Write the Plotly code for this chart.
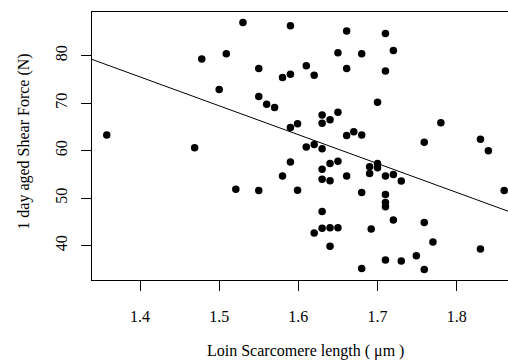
import plotly.graph_objects as go

# Sarcomere length (um)
sarcomere = [1.358, 1.478, 1.530, 1.590, 1.661, 1.509, 1.550, 1.580, 1.590, 1.610,
             1.620, 1.650, 1.661, 1.500, 1.550, 1.560, 1.570, 1.630, 1.650, 1.640,
             1.630, 1.590, 1.599, 1.661, 1.710, 1.680, 1.720, 1.710, 1.700, 1.780,
             1.670, 1.680, 1.759, 1.830, 1.840, 1.860, 1.690, 1.700, 1.700, 1.690,
             1.661, 1.710, 1.720, 1.730, 1.680, 1.710, 1.710, 1.710, 1.720, 1.759,
             1.692, 1.770, 1.830, 1.749, 1.710, 1.730, 1.680, 1.759, 1.610, 1.620,
             1.630, 1.590, 1.630, 1.640, 1.650, 1.580, 1.630, 1.640, 1.521, 1.550,
             1.599, 1.630, 1.620, 1.630, 1.640, 1.650, 1.640, 1.469]
# Shear force (N)
shear = [63.3, 79.3, 87.0, 86.3, 85.2, 80.4, 77.3, 75.4, 76.1, 77.9,
         75.9, 80.6, 77.3, 72.9, 71.4, 69.8, 69.1, 67.5, 68.1, 66.5,
         65.8, 64.9, 65.7, 63.2, 84.7, 80.4, 81.1, 76.8, 70.2, 65.9,
         64.0, 63.3, 61.8, 62.4, 60.0, 51.6, 56.6, 57.3, 56.4, 55.2,
         54.7, 54.7, 55.0, 53.6, 51.2, 50.8, 49.1, 48.2, 45.4, 44.9,
         43.5, 40.8, 39.3, 37.9, 37.0, 36.8, 35.2, 35.0, 60.8, 61.3,
         60.4, 57.6, 56.1, 57.3, 57.8, 54.7, 54.0, 53.7, 51.9, 51.6,
         51.7, 47.2, 42.7, 43.7, 43.8, 43.8, 39.9, 60.6]

# Fitted regression line: shear = intercept + slope * sarcomere
fit_intercept = 160.65
fit_slope = -60.8

x_ticks = [1.4, 1.5, 1.6, 1.7, 1.8]
y_ticks = [40, 50, 60, 70, 80]

x_range = [1.33937, 1.86479]
y_range = [32.779, 89.2]

font_family = "Liberation Serif, Times New Roman, serif"

fig = go.Figure()
fig.add_trace(go.Scatter(
    x=x_range,
    y=[fit_intercept + fit_slope * v for v in x_range],
    mode="lines",
    line=dict(color="black", width=1),
    showlegend=False,
    hoverinfo="skip",
))
fig.add_trace(go.Scatter(
    x=sarcomere, y=shear, mode="markers",
    marker=dict(color="black", size=7.5, line=dict(width=0)),
    showlegend=False,
))

fig.update_layout(
    width=508, height=361,
    margin=dict(l=92, r=0, t=12, b=81),
    paper_bgcolor="white", plot_bgcolor="white",
    font=dict(family=font_family, size=16, color="black"),
    xaxis=dict(
        range=x_range, tickvals=x_ticks, ticktext=[f"{v:.1f}" for v in x_ticks],
        showgrid=False, zeroline=False,
        showline=True, linecolor="black", linewidth=1, mirror=True,
        ticks="outside", ticklen=10, tickcolor="black", tickwidth=1,
        ticklabelstandoff=12,
    ),
    yaxis=dict(
        range=y_range, tickvals=y_ticks, ticktext=[str(v) for v in y_ticks],
        showgrid=False, zeroline=False,
        showline=True, linecolor="black", linewidth=1, mirror=False,
        ticks="outside", ticklen=10, tickcolor="black", tickwidth=1,
        tickangle=-90, ticklabelstandoff=8,
    ),
    annotations=[
        dict(text="Loin Scarcomere length ( \u03bcm )", xref="paper", yref="paper",
             x=(305 - 92) / 416, y=(280 - 351) / 268, xanchor="center", yanchor="middle",
             showarrow=False, font=dict(family=font_family, size=16, color="black")),
        dict(text="1 day aged Shear Force (N)", xref="paper", yref="paper",
             x=(24 - 92) / 416, y=(280 - 141.7) / 268, xanchor="center", yanchor="middle",
             textangle=-90, showarrow=False,
             font=dict(family=font_family, size=16, color="black")),
    ],
)

fig.write_html("out.html")
